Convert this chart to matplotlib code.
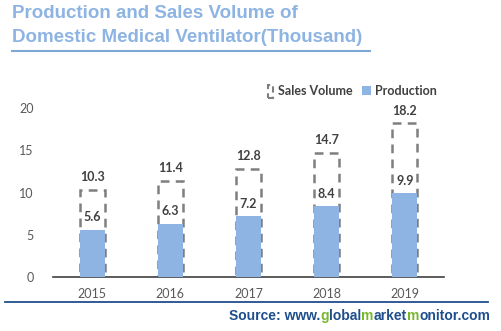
import matplotlib
matplotlib.use("Agg")
import matplotlib.pyplot as plt
from matplotlib.patches import Patch, Rectangle
from matplotlib.legend_handler import HandlerPatch

years = ["2015", "2016", "2017", "2018", "2019"]
sales_volume = [10.3, 11.4, 12.8, 14.7, 18.2]
production = [5.6, 6.3, 7.2, 8.4, 9.9]
yticks = [0, 5, 10, 15, 20]

BLUE = "#8DB4E2"
GRAY = "#7F7F7F"
TXT = "#404040"

fig = plt.figure(figsize=(5.02, 3.31), dpi=100)
ax = fig.add_axes([53/502, 1-277/331, (444-53)/502, (277-108)/331])

x = list(range(len(years)))
w = 0.32
ax.bar(x, sales_volume, width=w, facecolor="none", edgecolor=GRAY,
       linewidth=1.8, linestyle=(0, (3.5, 2.5)), zorder=2)
ax.bar(x, production, width=w, color=BLUE, edgecolor="none", zorder=3)

for xi, s, p in zip(x, sales_volume, production):
    ax.annotate(f"{s}", (xi, s), xytext=(0, 9), textcoords="offset points",
                ha="center", va="center", fontsize=9, fontweight="bold",
                color=TXT, family="Lato", annotation_clip=False)
    ax.annotate(f"{p}", (xi, p), xytext=(0, 9), textcoords="offset points",
                ha="center", va="center", fontsize=9, fontweight="bold",
                color=TXT, family="Lato", zorder=4)

ax.set_xlim(-0.5, 4.5)
ax.set_ylim(0, 20)
ax.set_yticks(yticks)
ax.set_xticks(x)
ax.set_xticklabels(years)
for lab in ax.get_xticklabels() + ax.get_yticklabels():
    lab.set_family("Lato")
    lab.set_fontsize(9)
    lab.set_color("#595959")
ax.tick_params(length=0, pad=8)
ax.tick_params(axis="y", pad=14)
for sp in ["top", "right", "left"]:
    ax.spines[sp].set_visible(False)
ax.spines["bottom"].set_color("#404040")
ax.spines["bottom"].set_linewidth(1.2)

class DashHandler(HandlerPatch):
    def create_artists(self, legend, orig_handle, xdescent, ydescent, width, height, fontsize, trans):
        r = Rectangle((width*0.3 - xdescent, -ydescent - height*0.3), width*0.6, height*1.4,
                      facecolor="none", edgecolor=GRAY, linewidth=1.5,
                      linestyle=(0, (3, 2)), transform=trans)
        return [r]

h1 = Patch(facecolor="none", edgecolor=GRAY)
h2 = Patch(facecolor=BLUE, edgecolor="none")
leg = fig.legend([h1, h2], ["Sales Volume", "Production"], ncol=2,
                 loc="center left", bbox_to_anchor=(254/502, 1-91/331),
                 frameon=False, handlelength=0.7, handleheight=0.7,
                 handletextpad=0.3, columnspacing=0.8,
                 handler_map={h1: DashHandler()},
                 prop={"family": "Lato", "weight": "bold", "size": 9})
for t in leg.get_texts():
    t.set_color(TXT)

TITLE = "#8DB4E2"
fig.text(12/502, 1-14/331, "Production and Sales Volume of", ha="left", va="center",
         fontsize=13.5, fontweight="bold", color=TITLE, family="Liberation Sans")
fig.text(12/502, 1-38/331, "Domestic Medical Ventilator(Thousand)", ha="left", va="center",
         fontsize=13.5, fontweight="bold", color=TITLE, family="Liberation Sans")
fig.add_artist(plt.Line2D([12/502, 370/502], [1-51/331, 1-51/331], color="#7FA7D5", lw=1.5))
fig.add_artist(plt.Line2D([5/502, 488/502], [1-302/331, 1-302/331], color="#1F4E8C", lw=1.3))

# source text with coloured letters
parts = [("Source: www.", "#1F4E8C"), ("g", "#76B82A"), ("lobal", "#1F4E8C"),
         ("m", "#76B82A"), ("arket", "#1F4E8C"), ("m", "#76B82A"), ("onitor.com", "#1F4E8C")]
fig.canvas.draw()
renderer = fig.canvas.get_renderer()
texts = []
for s, c in parts:
    t = fig.text(0, 1-316/331, s, ha="left", va="center", fontsize=10,
                 fontweight="bold", color=c, family="Liberation Sans")
    texts.append(t)
widths = [t.get_window_extent(renderer).width for t in texts]
cur = 490 - sum(widths)
for t, wd in zip(texts, widths):
    t.set_x(cur/502)
    cur += wd

fig.savefig("out.png", dpi=100)
